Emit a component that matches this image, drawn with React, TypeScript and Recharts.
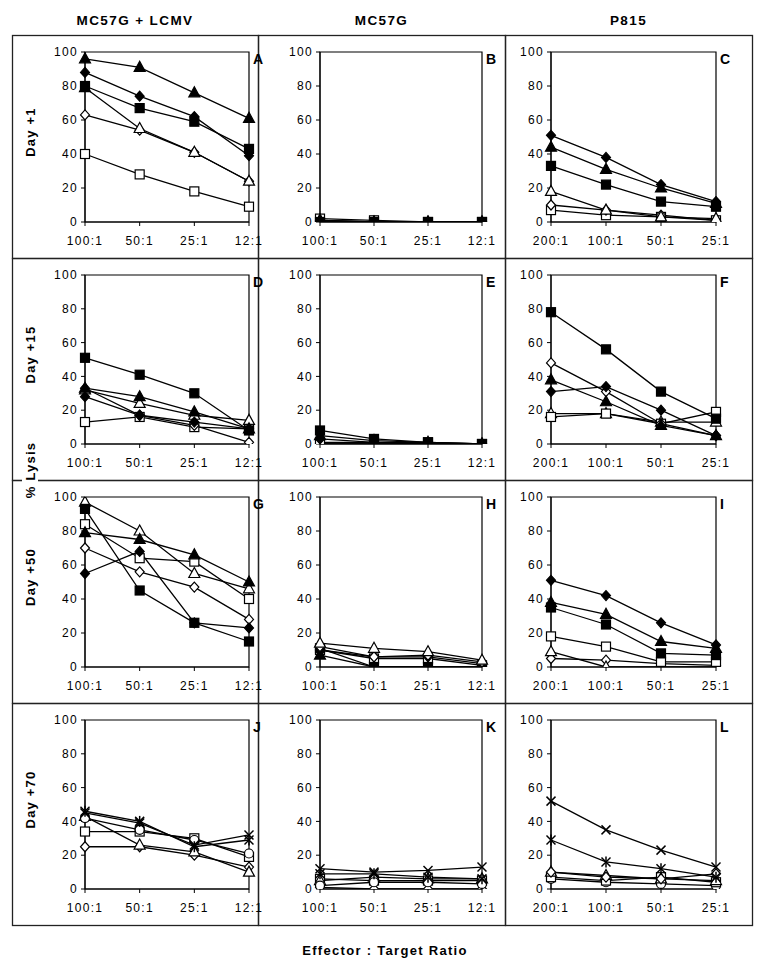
import { LineChart, Line, XAxis, YAxis, ReferenceArea } from 'recharts'

type Kind = 'tri' | 'triO' | 'sq' | 'sqO' | 'dia' | 'diaO' | 'circO' | 'x' | 'star'
type Series = { kind: Kind; values: number[] }

const lcmvRatios = ['100:1', '50:1', '25:1', '12:1']
const p815Ratios = ['200:1', '100:1', '50:1', '25:1']
const yTicks = [0, 20, 40, 60, 80, 100]

const columnTitles = ['MC57G + LCMV', 'MC57G', 'P815']
const rowTitles = ['Day +1', 'Day +15', 'Day +50', 'Day +70']
const panelLetters = ['A', 'B', 'C', 'D', 'E', 'F', 'G', 'H', 'I', 'J', 'K', 'L']

// day +1
const panelA: Series[] = [
  { kind: 'sqO', values: [40, 28, 18, 9] },
  { kind: 'diaO', values: [63, 54, 41, 24] },
  { kind: 'triO', values: [79, 55, 41, 24] },
  { kind: 'sq', values: [80, 67, 59, 43] },
  { kind: 'dia', values: [88, 74, 62, 39] },
  { kind: 'tri', values: [96, 91, 76, 61] },
]
const panelB: Series[] = [
  { kind: 'sqO', values: [2, 1, 0, 0] },
  { kind: 'diaO', values: [1, 0, 0, 0] },
  { kind: 'triO', values: [1, 0, 0, 0] },
  { kind: 'tri', values: [1, 0, 0, 0] },
  { kind: 'dia', values: [0, 0, 0, 0] },
  { kind: 'sq', values: [0, 0, 0, 0] },
]
const panelC: Series[] = [
  { kind: 'sqO', values: [7, 4, 3, 1] },
  { kind: 'diaO', values: [10, 7, 4, 1] },
  { kind: 'triO', values: [18, 7, 3, 2] },
  { kind: 'sq', values: [33, 22, 12, 9] },
  { kind: 'tri', values: [44, 31, 20, 11] },
  { kind: 'dia', values: [51, 38, 22, 12] },
]

// day +15
const panelD: Series[] = [
  { kind: 'sqO', values: [13, 16, 10, 9] },
  { kind: 'diaO', values: [33, 17, 11, 1] },
  { kind: 'triO', values: [32, 24, 17, 14] },
  { kind: 'dia', values: [28, 17, 13, 9] },
  { kind: 'tri', values: [33, 28, 19, 9] },
  { kind: 'sq', values: [51, 41, 30, 8] },
]
const panelE: Series[] = [
  { kind: 'triO', values: [0, 0, 0, 0] },
  { kind: 'diaO', values: [0, 0, 0, 0] },
  { kind: 'sqO', values: [1, 1, 1, 0] },
  { kind: 'dia', values: [3, 1, 0, 0] },
  { kind: 'tri', values: [5, 2, 1, 0] },
  { kind: 'sq', values: [8, 3, 1, 0] },
]
const panelF: Series[] = [
  { kind: 'triO', values: [18, 18, 13, 13] },
  { kind: 'sqO', values: [16, 18, 12, 19] },
  { kind: 'diaO', values: [48, 31, 12, 5] },
  { kind: 'tri', values: [38, 25, 11, 5] },
  { kind: 'dia', values: [31, 34, 20, 5] },
  { kind: 'sq', values: [78, 56, 31, 15] },
]

// day +50
const panelG: Series[] = [
  { kind: 'triO', values: [97, 80, 55, 46] },
  { kind: 'sqO', values: [84, 64, 62, 40] },
  { kind: 'diaO', values: [70, 56, 47, 28] },
  { kind: 'tri', values: [79, 75, 66, 50] },
  { kind: 'dia', values: [55, 68, 26, 23] },
  { kind: 'sq', values: [93, 45, 26, 15] },
]
const panelH: Series[] = [
  { kind: 'sqO', values: [10, 5, 5, 1] },
  { kind: 'dia', values: [10, 6, 6, 2] },
  { kind: 'sq', values: [11, 0, 0, 0] },
  { kind: 'tri', values: [7, 0, 0, 0] },
  { kind: 'diaO', values: [12, 6, 7, 3] },
  { kind: 'triO', values: [14, 11, 9, 4] },
]
const panelI: Series[] = [
  { kind: 'diaO', values: [5, 4, 2, 1] },
  { kind: 'triO', values: [9, 0, 0, 0] },
  { kind: 'sqO', values: [18, 12, 3, 3] },
  { kind: 'sq', values: [35, 25, 8, 7] },
  { kind: 'tri', values: [38, 31, 15, 11] },
  { kind: 'dia', values: [51, 42, 26, 13] },
]

// day +70
const panelJ: Series[] = [
  { kind: 'diaO', values: [25, 25, 20, 13] },
  { kind: 'triO', values: [43, 26, 22, 10] },
  { kind: 'sqO', values: [34, 34, 30, 19] },
  { kind: 'circO', values: [42, 35, 29, 21] },
  { kind: 'x', values: [45, 39, 26, 32] },
  { kind: 'star', values: [46, 40, 25, 29] },
]
const panelK: Series[] = [
  { kind: 'diaO', values: [1, 0, 0, 0] },
  { kind: 'sqO', values: [6, 5, 5, 5] },
  { kind: 'triO', values: [5, 7, 6, 6] },
  { kind: 'circO', values: [2, 4, 4, 3] },
  { kind: 'star', values: [9, 9, 7, 6] },
  { kind: 'x', values: [12, 10, 11, 13] },
]
const panelL: Series[] = [
  { kind: 'circO', values: [6, 4, 3, 2] },
  { kind: 'sqO', values: [7, 5, 7, 4] },
  { kind: 'triO', values: [10, 8, 6, 5] },
  { kind: 'diaO', values: [10, 7, 6, 9] },
  { kind: 'star', values: [29, 16, 12, 7] },
  { kind: 'x', values: [52, 35, 23, 13] },
]

const panels = [panelA, panelB, panelC, panelD, panelE, panelF, panelG, panelH, panelI, panelJ, panelK, panelL]

const colLeft = [12, 258, 505, 752]
const rowTop = [35, 258, 480, 703, 925]
const yAxisWidth = [73, 62, 46]
const rightGap = [9, 23, 36]
const EXTRA = 24
const FONT = '"Liberation Sans", Arial, Helvetica, sans-serif'

function Marker({ cx, cy, kind }: { cx?: number; cy?: number; kind: Kind }) {
  if (cx == null || cy == null) return <g />
  const k = '#000'
  switch (kind) {
    case 'tri':
    case 'triO':
      return (
        <polygon
          points={`${cx},${cy - 6} ${cx - 5.5},${cy + 4} ${cx + 5.5},${cy + 4}`}
          fill={kind === 'tri' ? k : '#fff'}
          stroke={k}
          strokeWidth={1.2}
        />
      )
    case 'sq':
    case 'sqO':
      return (
        <rect x={cx - 4.5} y={cy - 4.5} width={9} height={9} fill={kind === 'sq' ? k : '#fff'} stroke={k} strokeWidth={1.2} />
      )
    case 'dia':
    case 'diaO':
      return (
        <polygon
          points={`${cx},${cy - 5} ${cx + 4.5},${cy} ${cx},${cy + 5} ${cx - 4.5},${cy}`}
          fill={kind === 'dia' ? k : '#fff'}
          stroke={k}
          strokeWidth={1.2}
        />
      )
    case 'circO':
      return <circle cx={cx} cy={cy} r={4.5} fill="#fff" stroke={k} strokeWidth={1.2} />
    case 'x':
      return (
        <g stroke={k} strokeWidth={1.5}>
          <line x1={cx - 4.5} y1={cy - 4.5} x2={cx + 4.5} y2={cy + 4.5} />
          <line x1={cx - 4.5} y1={cy + 4.5} x2={cx + 4.5} y2={cy - 4.5} />
        </g>
      )
    case 'star':
      return (
        <g stroke={k} strokeWidth={1.5}>
          <line x1={cx - 4.5} y1={cy - 4.5} x2={cx + 4.5} y2={cy + 4.5} />
          <line x1={cx - 4.5} y1={cy + 4.5} x2={cx + 4.5} y2={cy - 4.5} />
          <line x1={cx} y1={cy - 5.5} x2={cx} y2={cy + 5.5} />
        </g>
      )
  }
  return <g />
}

function Panel({ index }: { index: number }) {
  const col = index % 3
  const row = Math.floor(index / 3)
  const ratios = col === 2 ? p815Ratios : lcmvRatios
  const series = panels[index]
  const data = ratios.map((r, i) => {
    const o: Record<string, string | number> = { r }
    series.forEach((s, j) => {
      o['s' + j] = s.values[i]
    })
    return o
  })
  const w = colLeft[col + 1] - colLeft[col]
  const h = rowTop[row + 1] - rowTop[row]
  const tickStyle = { fontSize: 12, fill: '#000', fontFamily: FONT, letterSpacing: 1.3 }
  return (
    <div style={{ position: 'absolute', left: colLeft[col], top: rowTop[row] }}>
      <LineChart
        width={w + EXTRA}
        height={h}
        data={data}
        margin={{ top: 17, right: rightGap[col] + EXTRA, bottom: 14, left: 0 }}
      >
        <XAxis
          dataKey="r"
          scale="point"
          padding={{ left: 0, right: 0 }}
          interval={0}
          height={22}
          tick={tickStyle}
          tickSize={4}
          tickMargin={10}
          stroke="#000"
        />
        <YAxis
          type="number"
          domain={[0, 100]}
          ticks={yTicks}
          width={yAxisWidth[col]}
          tick={tickStyle}
          tickSize={4}
          tickMargin={3}
          stroke="#000"
          allowDataOverflow
        />
        <ReferenceArea x1={ratios[0]} x2={ratios[3]} y1={0} y2={100} fill="none" stroke="#000" strokeWidth={1.2} />
        {series.map((s, j) => (
          <Line
            key={j}
            dataKey={'s' + j}
            type="linear"
            stroke="#000"
            strokeWidth={1.3}
            isAnimationActive={false}
            activeDot={false}
            dot={(p: any) => <Marker key={`${s.kind}-${j}-${p.index}`} cx={p.cx} cy={p.cy} kind={s.kind} />}
          />
        ))}
      </LineChart>
    </div>
  )
}

export default function App() {
  const plotTop = (row: number) => rowTop[row] + 17
  const plotBottom = (row: number) => rowTop[row + 1] - 36
  return (
    <div style={{ position: 'absolute', left: 0, top: 0, width: 761, height: 975, background: '#fff', fontFamily: FONT }}>
      <svg width={761} height={975} style={{ position: 'absolute', left: 0, top: 0 }}>
        {[0, 1, 2].map((c) =>
          [0, 1, 2, 3].map((r) => (
            <rect
              key={`b${c}${r}`}
              x={colLeft[c] + 0.5}
              y={rowTop[r] + 0.5}
              width={colLeft[c + 1] - colLeft[c]}
              height={rowTop[r + 1] - rowTop[r]}
              fill="none"
              stroke="#222"
              strokeWidth={1.3}
            />
          ))
        )}
        {columnTitles.map((t, c) => (
          <text
            key={t}
            x={(colLeft[c] + colLeft[c + 1]) / 2}
            y={25}
            textAnchor="middle"
            fontWeight="bold"
            fontSize={13.5}
            letterSpacing={1.4}
            fontFamily={FONT}
          >
            {t}
          </text>
        ))}
        {rowTitles.map((t, r) => {
          const cy = (plotTop(r) + plotBottom(r)) / 2 - 5
          return (
            <text
              key={t}
              x={0}
              y={0}
              transform={`translate(35 ${cy}) rotate(-90)`}
              textAnchor="middle"
              fontWeight="bold"
              fontSize={13}
              letterSpacing={1.2}
              fontFamily={FONT}
            >
              {t}
            </text>
          )
        })}
        <rect x={22} y={443} width={16} height={56} fill="#fff" />
        <text
          x={0}
          y={0}
          transform="translate(35 470) rotate(-90)"
          textAnchor="middle"
          fontWeight="bold"
          fontSize={13}
          letterSpacing={1.2}
          fontFamily={FONT}
        >
          % Lysis
        </text>
        <text x={385} y={955} textAnchor="middle" fontWeight="bold" fontSize={13} letterSpacing={1.3} fontFamily={FONT}>
          Effector : Target Ratio
        </text>
        {panelLetters.map((l, i) => {
          const c = i % 3
          const r = Math.floor(i / 3)
          const x = colLeft[c + 1] - rightGap[c] + 4
          return (
            <text key={l} x={x} y={plotTop(r) + 12} fontWeight="bold" fontSize={14} fontFamily={FONT}>
              {l}
            </text>
          )
        })}
      </svg>
      {panels.map((_, i) => (
        <Panel key={i} index={i} />
      ))}
    </div>
  )
}
